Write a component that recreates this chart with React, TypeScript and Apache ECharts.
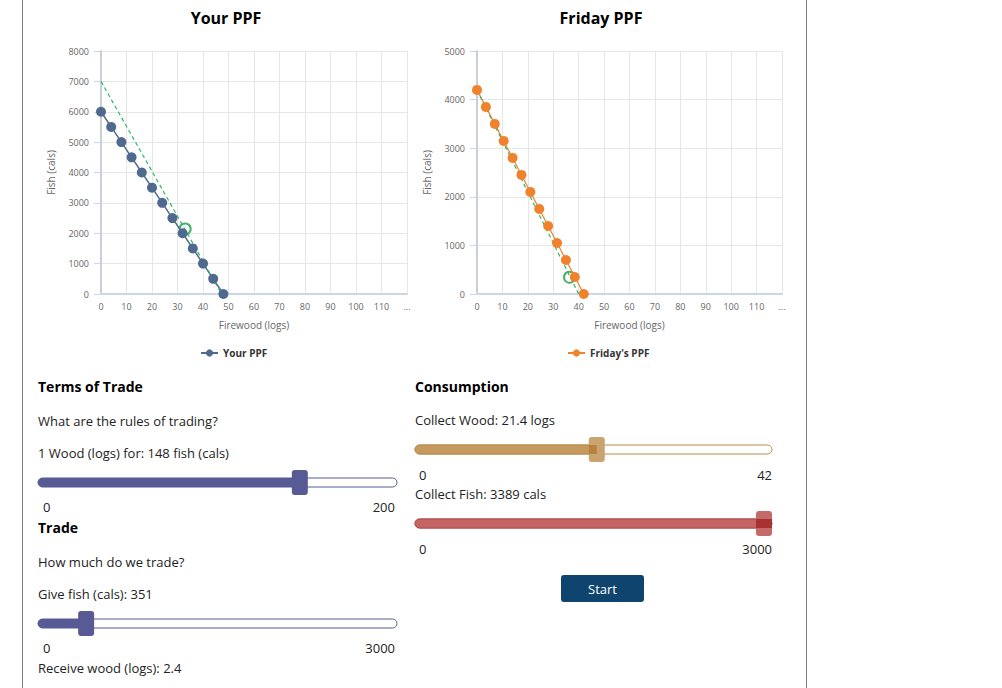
import React, { useEffect, useRef } from "react";
import * as echarts from "echarts";

// ---- data ----
const yourWood = [0, 4, 8, 12, 16, 20, 24, 28, 32, 36, 40, 44, 48];
const yourFish = [6000, 5500, 5000, 4500, 4000, 3500, 3000, 2500, 2000, 1500, 1000, 500, 0];
const fridayWood = [0, 3.5, 7, 10.5, 14, 17.5, 21, 24.5, 28, 31.5, 35, 38.5, 42];
const fridayFish = [4200, 3850, 3500, 3150, 2800, 2450, 2100, 1750, 1400, 1050, 700, 350, 0];
const yourTradeLine = [[0, 7000], [47.3, 0]];
const fridayTradeLine = [[0, 4200], [40, 0]];
const yourPoint = [33, 2140];
const fridayPoint = [36.4, 345];
const xTickLabels = ["0", "10", "20", "30", "40", "50", "60", "70", "80", "90", "100", "110", "..."];
const yourYMax = 8000;
const fridayYMax = 5000;

// slider values
const termsRate = 148; const termsMax = 200;
const giveFish = 351; const giveMax = 3000;
const receiveWood = 2.4;
const collectWood = 21.4; const woodMax = 42;
const collectFish = 3389; const fishMax = 3000;

const FONT = '"Open Sans", "Noto Sans", sans-serif';

function txt(text: string, x: number, y: number, opts: any = {}) {
  return {
    type: "text",
    x, y,
    style: {
      text,
      fill: opts.fill || "#222",
      fontSize: opts.size || 13,
      fontWeight: opts.weight || "normal",
      fontFamily: FONT,
      align: opts.align || "left",
      verticalAlign: "middle",
    },
  };
}

function slider(x0: number, x1: number, yc: number, value: number, max: number, c: any) {
  const th = 9, tw = 16, tH = 25;
  const frac = Math.max(0, Math.min(1, value / max));
  const cx = x0 + tw / 2 + frac * (x1 - x0 - tw);
  const els: any[] = [
    { type: "rect", shape: { x: x0, y: yc - th / 2, width: x1 - x0, height: th, r: th / 2 }, style: { fill: "#fff", stroke: c.border, lineWidth: 1 } },
    { type: "rect", shape: { x: x0, y: yc - th / 2, width: cx - x0, height: th, r: [th / 2, 0, 0, th / 2] }, style: { fill: c.fill, stroke: c.border, lineWidth: c.fillStroke ? 1 : 0 } },
    { type: "rect", shape: { x: cx - tw / 2, y: yc - tH / 2, width: tw, height: tH, r: 3 }, style: { fill: c.thumb } },
  ];
  if (c.dark) {
    els.push({ type: "rect", shape: { x: cx - tw / 2, y: yc - th / 2, width: tw / 2 + (frac >= 1 ? tw / 2 : 0), height: th }, style: { fill: c.dark } });
  }
  return els;
}

export default function App() {
  const ref = useRef<HTMLDivElement>(null);
  useEffect(() => {
    if (!ref.current) return;
    const chart = echarts.init(ref.current, undefined, { renderer: "svg" });

    const axisLabel = { fontSize: 9, color: "#666", fontFamily: FONT };
    const nameStyle = { fontSize: 10, color: "#666", fontFamily: FONT };
    const split = { show: true, lineStyle: { color: "#e6e6e6", width: 1 } };

    const mkX = (gi: number) => ({
      type: "value", gridIndex: gi, min: 0, max: 120, interval: 10,
      name: "Firewood (logs)", nameLocation: "middle", nameGap: 26, nameTextStyle: nameStyle,
      axisLine: { show: true, onZero: false, lineStyle: { color: "#ccd6eb", width: 2 } },
      axisTick: { show: false },
      axisLabel: { ...axisLabel, margin: 8, formatter: (v: number) => xTickLabels[Math.round(v / 10)] ?? "" },
      splitLine: split,
    });
    const mkY = (gi: number, max: number) => ({
      type: "value", gridIndex: gi, min: 0, max, interval: 1000,
      name: "Fish (cals)", nameLocation: "middle", nameGap: 45, nameRotate: 90, nameTextStyle: nameStyle,
      axisLine: { show: true, lineStyle: { color: "#c8cfd8", width: 2 } },
      axisTick: { show: true, length: 7, lineStyle: { color: "#ccd6eb" } },
      axisLabel: { ...axisLabel, margin: 12, formatter: (v: number) => String(v) },
      splitLine: split,
    });

    const graphic: any[] = [
      { type: "line", shape: { x1: 22.5, y1: 0, x2: 22.5, y2: 688 }, style: { stroke: "#808080", lineWidth: 1 } },
      { type: "line", shape: { x1: 806.5, y1: 0, x2: 806.5, y2: 688 }, style: { stroke: "#808080", lineWidth: 1 } },
      txt("Your PPF", 226, 18, { size: 16, weight: "bold", align: "center", fill: "#000" }),
      txt("Friday PPF", 601, 18, { size: 16, weight: "bold", align: "center", fill: "#000" }),

      txt("Terms of Trade", 38, 386, { size: 14, weight: "bold", fill: "#000" }),
      txt("What are the rules of trading?", 38, 421),
      txt(`1 Wood (logs) for: ${termsRate} fish (cals)`, 38, 453),
      ...slider(38, 397, 482.5, termsRate, termsMax, { fill: "#575a94", border: "#575a94", thumb: "#575a94" }),
      txt("0", 43, 507),
      txt(String(termsMax), 395, 507, { align: "right" }),
      txt("Trade", 38, 527, { size: 14, weight: "bold", fill: "#000" }),
      txt("How much do we trade?", 38, 562),
      txt(`Give fish (cals): ${giveFish}`, 38, 594),
      ...slider(38, 397, 623.5, giveFish, giveMax, { fill: "#575a94", border: "#575a94", thumb: "#575a94" }),
      txt("0", 43, 648),
      txt(String(giveMax), 395, 648, { align: "right" }),
      txt(`Receive wood (logs): ${receiveWood}`, 38, 668),

      txt("Consumption", 415, 386, { size: 14, weight: "bold", fill: "#000" }),
      txt(`Collect Wood: ${collectWood} logs`, 415, 420),
      ...slider(415, 772, 449.5, collectWood, woodMax, { fill: "#c49a5e", border: "#b98b4c", thumb: "#c9a46e", dark: "#b7823c", fillStroke: true }),
      txt("0", 419, 475),
      txt(String(woodMax), 772, 475, { align: "right" }),
      txt(`Collect Fish: ${collectFish} cals`, 415, 494),
      ...slider(415, 772, 523.5, collectFish, fishMax, { fill: "#c46464", border: "#b04a4a", thumb: "#c46a6a", dark: "#a83232", fillStroke: true }),
      txt("0", 419, 549),
      txt(String(fishMax), 772, 549, { align: "right" }),
      { type: "rect", shape: { x: 561, y: 575, width: 83, height: 27, r: 3 }, style: { fill: "#0f446e" } },
      txt("Start", 602.5, 589, { fill: "#fff", align: "center" }),
    ];

    const legendText = { fontSize: 10, fontWeight: "bold", color: "#333", fontFamily: FONT };

    chart.setOption({
      animation: false,
      backgroundColor: "#fff",
      grid: [
        { left: 101, right: 595, top: 51, bottom: 394 },
        { left: 477, right: 220, top: 51, bottom: 394 },
      ],
      xAxis: [mkX(0), mkX(1)],
      yAxis: [mkY(0, yourYMax), mkY(1, fridayYMax)],
      legend: [
        { data: ["Your PPF"], left: 195, top: 343, itemWidth: 17, itemHeight: 9, itemGap: 5, textStyle: legendText },
        { data: ["Friday's PPF"], left: 562, top: 343, itemWidth: 17, itemHeight: 9, itemGap: 5, textStyle: legendText },
      ],
      series: [
        {
          name: "Your PPF", type: "line", xAxisIndex: 0, yAxisIndex: 0,
          data: yourWood.map((w, i) => [w, yourFish[i]]),
          symbol: "circle", symbolSize: 10, showAllSymbol: true,
          itemStyle: { color: "#4f6a8e" }, lineStyle: { color: "#4f6a8e", width: 1.5 },
        },
        {
          name: "Your trade", type: "line", xAxisIndex: 0, yAxisIndex: 0, data: yourTradeLine,
          showSymbol: false, silent: true, lineStyle: { color: "#2db86a", width: 1.2, type: [4, 3] },
        },
        {
          name: "Your consumption", type: "scatter", xAxisIndex: 0, yAxisIndex: 0, data: [yourPoint],
          symbol: "circle", symbolSize: 11,
          itemStyle: { color: "rgba(255,255,255,0)", borderColor: "#1a9c45", borderWidth: 2 },
        },
        {
          name: "Friday's PPF", type: "line", xAxisIndex: 1, yAxisIndex: 1,
          data: fridayWood.map((w, i) => [w, fridayFish[i]]),
          symbol: "circle", symbolSize: 10, showAllSymbol: true,
          itemStyle: { color: "#f0822d" }, lineStyle: { color: "#f0822d", width: 1.2 },
        },
        {
          name: "Friday trade", type: "line", xAxisIndex: 1, yAxisIndex: 1, data: fridayTradeLine,
          showSymbol: false, silent: true, lineStyle: { color: "#2db86a", width: 1.2, type: [4, 3] },
        },
        {
          name: "Friday consumption", type: "scatter", xAxisIndex: 1, yAxisIndex: 1, data: [fridayPoint],
          symbol: "circle", symbolSize: 11,
          itemStyle: { color: "rgba(255,255,255,0)", borderColor: "#1a9c45", borderWidth: 2 },
        },
      ],
      graphic,
    });
    return () => chart.dispose();
  }, []);
  return <div ref={ref} style={{ position: "fixed", left: 0, top: 0, width: 1002, height: 688 }} />;
}
